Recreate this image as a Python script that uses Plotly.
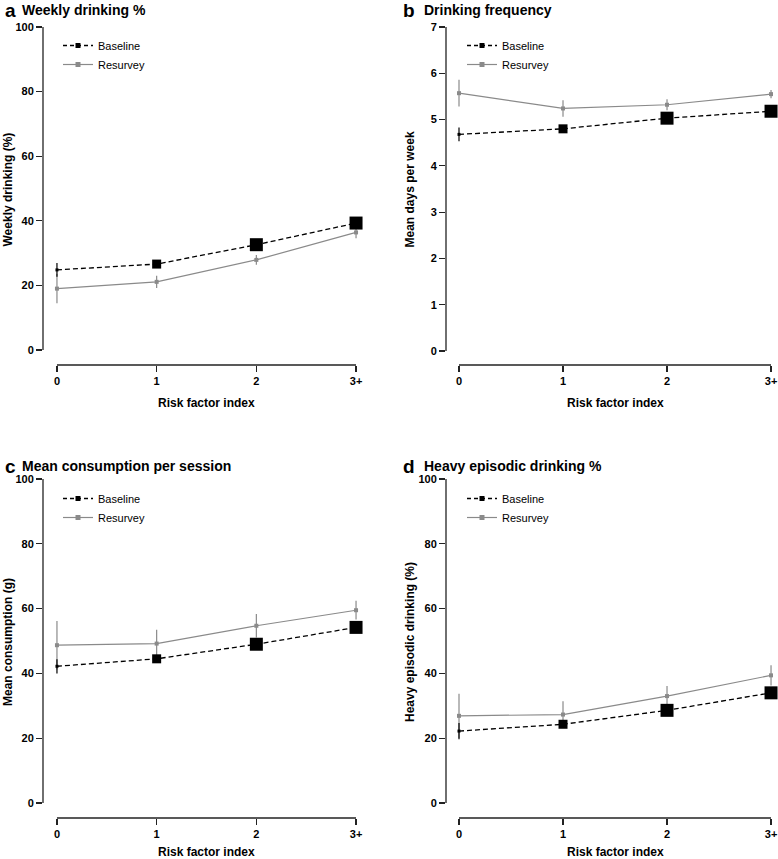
import plotly.graph_objects as go

W, H = 778, 859

categories = ["0", "1", "2", "3+"]

weekly_base = [24.8, 26.6, 32.6, 39.3]
weekly_base_err = [2.1, 0.8, 0.8, 0.8]
weekly_res = [19.0, 21.1, 27.9, 36.4]
weekly_res_err = [4.5, 1.9, 1.5, 1.8]

freq_base = [4.68, 4.80, 5.03, 5.18]
freq_base_err = [0.15, 0.05, 0.04, 0.04]
freq_res = [5.57, 5.24, 5.32, 5.55]
freq_res_err = [0.29, 0.18, 0.12, 0.09]

cons_base = [42.2, 44.5, 49.0, 54.2]
cons_base_err = [2.2, 1.2, 1.0, 1.0]
cons_res = [48.7, 49.2, 54.7, 59.5]
cons_res_err = [7.5, 4.3, 3.6, 2.9]

heavy_base = [22.2, 24.3, 28.6, 34.0]
heavy_base_err = [2.5, 1.0, 1.0, 1.0]
heavy_res = [26.9, 27.3, 33.0, 39.4]
heavy_res_err = [6.8, 4.1, 3.1, 3.1]

base_sizes = [3, 9, 13, 13]

panels = [
    dict(letter="a", title="Weekly drinking %", ytitle="Weekly drinking (%)",
         base=weekly_base, base_err=weekly_base_err, res=weekly_res, res_err=weekly_res_err,
         yticks=[0, 20, 40, 60, 80, 100], ytop=100),
    dict(letter="b", title="Drinking frequency", ytitle="Mean days per week",
         base=freq_base, base_err=freq_base_err, res=freq_res, res_err=freq_res_err,
         yticks=[0, 1, 2, 3, 4, 5, 6, 7], ytop=7),
    dict(letter="c", title="Mean consumption per session", ytitle="Mean consumption (g)",
         base=cons_base, base_err=cons_base_err, res=cons_res, res_err=cons_res_err,
         yticks=[0, 20, 40, 60, 80, 100], ytop=100),
    dict(letter="d", title="Heavy episodic drinking %", ytitle="Heavy episodic drinking (%)",
         base=heavy_base, base_err=heavy_base_err, res=heavy_res, res_err=heavy_res_err,
         yticks=[0, 20, 40, 60, 80, 100], ytop=100),
]

GRAY = "#8a8a8a"
FONT = "Liberation Sans, Arial, Helvetica, sans-serif"

# pixel layout of the panels: (left px, right px, top px, bottom px, xrange)
geo = [
    (43, 370, 14, 365, [-0.14, 3.14]),
    (446, 778, 14, 365, [-0.125, 3.067]),
    (43, 370, 466, 818, [-0.14, 3.14]),
    (446, 778, 466, 818, [-0.125, 3.067]),
]
# y pixel of the "0" tick and the top tick per panel
ypix = [(350, 27), (351, 27), (803, 479), (803, 479)]

fig = go.Figure()
layout = dict(width=W, height=H, margin=dict(l=0, r=0, t=0, b=0),
              plot_bgcolor="white", paper_bgcolor="white",
              font=dict(family=FONT, color="black"), showlegend=True)
shapes, annotations = [], []

for i, p in enumerate(panels):
    n = "" if i == 0 else str(i + 1)
    xa, ya = "x" + n, "y" + n
    leg = "legend" + n
    l, r, t, b, xr = geo[i]
    y0p, ytp = ypix[i]
    ppu = (y0p - ytp) / p["ytop"]
    ymin = -(b - y0p) / ppu
    ymax = p["ytop"] + (ytp - t) / ppu

    fig.add_trace(go.Scatter(
        x=categories, y=p["res"], xaxis=xa, yaxis=ya, mode="lines+markers",
        line=dict(color=GRAY, width=1.2),
        marker=dict(symbol="square", size=4, color=GRAY, opacity=1),
        error_y=dict(type="data", array=p["res_err"], color=GRAY, thickness=1.2, width=0),
        showlegend=False, cliponaxis=False))
    fig.add_trace(go.Scatter(
        x=categories, y=p["base"], xaxis=xa, yaxis=ya, mode="lines+markers",
        line=dict(color="black", width=1.3, dash="5px,3px"),
        marker=dict(symbol="square", size=base_sizes, color="black", opacity=1,
                    line=dict(width=0)),
        error_y=dict(type="data", array=p["base_err"], color="black", thickness=1.2, width=0),
        showlegend=False, cliponaxis=False))
    # legend entries
    fig.add_trace(go.Scatter(
        x=[None], y=[None], xaxis=xa, yaxis=ya, mode="lines+markers", name="Baseline",
        line=dict(color="black", width=1.3, dash="4px,3px"),
        marker=dict(symbol="square", size=5, color="black"), legend=leg))
    fig.add_trace(go.Scatter(
        x=[None], y=[None], xaxis=xa, yaxis=ya, mode="lines+markers", name="Resurvey",
        line=dict(color=GRAY, width=1.2),
        marker=dict(symbol="square", size=5, color=GRAY), legend=leg))

    layout["xaxis" + n] = dict(
        domain=[l / W, r / W], range=xr, type="category", anchor=ya,
        showgrid=False, zeroline=False, showline=False,
        ticks="outside", ticklen=6, tickwidth=1.2, tickcolor="#222",
        tickfont=dict(size=11, family=FONT, weight="bold"), fixedrange=True)
    layout["yaxis" + n] = dict(
        domain=[1 - b / H, 1 - t / H], range=[ymin, ymax], anchor=xa,
        tickvals=p["yticks"], showgrid=False, zeroline=False, showline=False,
        ticks="outside", ticklen=6, tickwidth=1.2, tickcolor="#222",
        tickfont=dict(size=11, family=FONT, weight="bold"), fixedrange=True)

    # R-style axis lines spanning tick range only
    shapes.append(dict(type="line", xref=xa + " domain", yref=ya, x0=0, x1=0,
                       y0=0, y1=p["ytop"], line=dict(color="#222", width=1.3)))
    shapes.append(dict(type="line", xref=xa, yref=ya + " domain", x0=0, x1=3,
                       y0=0, y1=0, line=dict(color="#222", width=1.3)))

    lx = 3 if i % 2 == 0 else 401
    tx = 20 if i % 2 == 0 else 422
    ty = 10 if i < 2 else 466
    annotations.append(dict(text="<b>%s</b>" % p["letter"], x=lx / W, y=1 - ty / H,
                            xref="paper", yref="paper", xanchor="left", yanchor="middle",
                            showarrow=False, font=dict(size=19, family=FONT)))
    annotations.append(dict(text="<b>%s</b>" % p["title"], x=tx / W, y=1 - ty / H,
                            xref="paper", yref="paper", xanchor="left", yanchor="middle",
                            showarrow=False, font=dict(size=14, family=FONT)))
    # y-axis title
    ytx = 8 if i % 2 == 0 else 410
    annotations.append(dict(text="<b>%s</b>" % p["ytitle"], x=ytx / W, y=1 - ((t + b) / 2) / H,
                            xref="paper", yref="paper", xanchor="center", yanchor="middle",
                            textangle=-90, showarrow=False, font=dict(size=12, family=FONT)))
    # x-axis title
    xcx = 206 if i % 2 == 0 else 615
    xty = 403 if i < 2 else 852
    annotations.append(dict(text="<b>Risk factor index</b>", x=xcx / W, y=1 - xty / H,
                            xref="paper", yref="paper", xanchor="center", yanchor="middle",
                            showarrow=False, font=dict(size=12, family=FONT)))

    legx = 58 if i % 2 == 0 else 462
    legy = 31 if i < 2 else 484
    layout[leg] = dict(x=legx / W, y=1 - legy / H, xref="paper", yref="paper",
                       xanchor="left", yanchor="top", bgcolor="rgba(0,0,0,0)",
                       font=dict(size=11, family=FONT), tracegroupgap=0,
                       itemwidth=30)

layout["shapes"] = shapes
layout["annotations"] = annotations
fig.update_layout(**layout)
fig.write_html("out.html", config={"displayModeBar": False, "staticPlot": True},
               post_script="document.body.style.margin='0';document.body.style.padding='0';")
